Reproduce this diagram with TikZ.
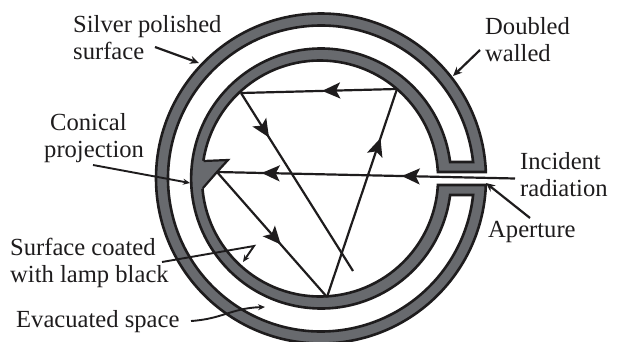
\documentclass[tikz,border=0pt]{standalone}
\usepackage{fontspec}
\setmainfont{Liberation Serif}
\usetikzlibrary{arrows.meta,decorations.markings}
\definecolor{wallgray}{RGB}{104,106,110}
\definecolor{inkc}{RGB}{30,28,29}
\tikzset{
  lbl/.style={font=\fontsize{24.6}{27}\selectfont,text=inkc,align=left,inner sep=0pt,anchor=base west},
  wall/.style={draw=inkc,line width=2.6pt,line join=miter},
  ray/.style={draw=inkc,line width=2.2pt},
  pointer/.style={draw=inkc,line width=2.2pt,-{Stealth[length=9pt,width=8pt]}},
  thinpointer/.style={draw=inkc,line width=1.9pt,-{Stealth[length=7pt,width=6pt]}},
  rayhead/.style={postaction={decorate},decoration={markings,mark=at position #1 with {\arrow{Stealth[length=18pt,width=16pt,inset=4pt]}}}},
  rayheads/.style 2 args={postaction={decorate},decoration={markings,
    mark=at position #1 with {\arrow{Stealth[length=18pt,width=16pt,inset=4pt]}},
    mark=at position #2 with {\arrow{Stealth[length=18pt,width=16pt,inset=4pt]}}}}
}
\begin{document}
\begin{tikzpicture}[x=1pt,y=1pt]
\useasboundingbox (0,0) rectangle (620,341);
\coordinate (C) at (321,162.5);
% band of the double wall
\path[wall,fill=wallgray]
  (C) ++(2.26:165) arc[start angle=2.26,end angle=357.74,radius=165]
  -- ++(-48,0)
  arc[start angle=356.84,delta angle=-353.68,radius=118] -- cycle;
% evacuated cavity
\path[wall,fill=white]
  (C) ++(6.19:153) arc[start angle=6.19,end angle=353.81,radius=153]
  -- ++(-23,0)
  arc[start angle=352.71,delta angle=-345.42,radius=130] -- cycle;
% conical projection
\coordinate (c1) at (203.5,180);
\coordinate (c2) at (228,181);
\coordinate (f) at (217,169);
\coordinate (c3) at (203,153);
\path[fill=wallgray] (197,150) -- (c3) -- (f) -- (c2) -- (c1) -- (197,182) -- cycle;
\draw[draw=inkc,line width=2.2pt,line join=miter] (c1) -- (c2) -- (f) -- (c3);
% reflected rays
\coordinate (inc) at (515,162.5);
\coordinate (b) at (327,44);
\coordinate (rt) at (397,252);
\coordinate (lt) at (241,248);
\coordinate (e) at (353,70);
\path[ray,rayheads={0.38}{0.85}] (inc) -- (f);
\path[ray,rayhead=0.58] (f) -- (b);
\path[ray,rayhead=0.764] (b) -- (rt);
\path[ray,rayhead=0.48] (rt) -- (lt);
\path[ray,rayhead=0.25] (lt) -- (e);
% labels
\node[lbl] (silver) at (73,282) {Silver polished\\surface};
\node[lbl] (double) at (485,280) {Doubled\\walled};
\node[lbl] (conical) at (44,184) {\hspace*{6pt}Conical\\projection};
\node[lbl] (incident) at (520,145) {Incident\\radiation};
\node[lbl] (aperture) at (488,104) {Aperture};
\node[lbl] (coated) at (10,59) {Surface coated\\with lamp black};
\node[lbl] (evac) at (16,14) {Evacuated space};
% pointers
\coordinate (s1) at (155,294); \coordinate (s2) at (199,278);
\coordinate (d1) at (480,291); \coordinate (d2) at (453,265);
\coordinate (p1) at (93,176); \coordinate (p2) at (190,158);
\coordinate (a1) at (530,123); \coordinate (a2) at (486,158);
\coordinate (l1) at (162,79); \coordinate (l2) at (254,95); \coordinate (l3) at (243,79);
\coordinate (v1) at (191,20); \coordinate (v2) at (265,34);
\draw[pointer] (s1) -- (s2);
\draw[pointer] (d1) -- (d2);
\draw[thinpointer] (p1) -- (p2);
\draw[pointer] (a1) -- (a2);
\draw[thinpointer] (l1) -- (l2) -- (l3);
\draw[thinpointer] (v1) .. controls (222,22) and (232,33) .. (v2);
\end{tikzpicture}
\end{document}
